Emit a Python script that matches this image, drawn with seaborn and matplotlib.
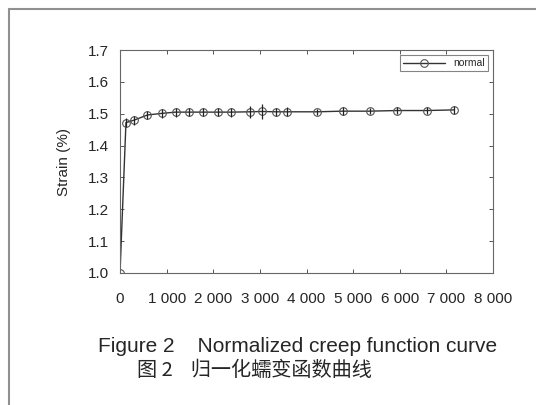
import seaborn as sns
import matplotlib.pyplot as plt
import matplotlib.lines as mlines
import numpy as np
import pandas as pd

# creep data
time_s = [0, 128, 305, 589, 894, 1191, 1489, 1780, 2092, 2383, 2787, 3035,
          3355, 3582, 4220, 4773, 5355, 5950, 6574, 7163]
strain = [1.000, 1.472, 1.480, 1.496, 1.501, 1.505, 1.505, 1.505, 1.505, 1.505,
          1.506, 1.507, 1.506, 1.506, 1.506, 1.508, 1.508, 1.510, 1.510, 1.512]
err = [0.0, 0.014, 0.014, 0.012, 0.014, 0.014, 0.013, 0.013, 0.012, 0.014,
       0.018, 0.025, 0.012, 0.014, 0.010, 0.012, 0.010, 0.012, 0.012, 0.012]

xticks = [0, 1000, 2000, 3000, 4000, 5000, 6000, 7000, 8000]
xticklabels = ['0', '1 000', '2 000', '3 000', '4 000', '5 000', '6 000', '7 000', '8 000']
yticks = [1.0, 1.1, 1.2, 1.3, 1.4, 1.5, 1.6, 1.7]

df = pd.DataFrame({'time': time_s, 'strain': strain, 'err': err})

sns.set_style('ticks')
plt.rcParams['font.family'] = ['Liberation Sans', 'Noto Sans CJK SC', 'DejaVu Sans']

fig = plt.figure(figsize=(5.36, 4.05), dpi=100)
ax = fig.add_axes([120/536, 1-273/405, (493-120)/536, (273-50)/405])

sns.lineplot(data=df, x='time', y='strain', ax=ax, color='#333333', lw=1.0,
             marker='o', markersize=5.5, markerfacecolor='none',
             markeredgecolor='#555555', markeredgewidth=0.8, label='normal')
ax.vlines(df['time'], df['strain'] - df['err'], df['strain'] + df['err'],
          color='#222222', lw=0.9)

ax.set_xlim(0, 8000)
ax.set_ylim(1.0, 1.7)
ax.set_xticks(xticks)
ax.set_xticklabels(xticklabels)
ax.set_yticks(yticks)
ax.set_yticklabels(['%.1f' % v for v in yticks])
ax.tick_params(direction='in', top=True, right=True, length=3, width=0.7,
               color='#555555', labelsize=11, pad=8)
ax.tick_params(axis='x', pad=14)
ax.set_xlabel('')
ax.set_ylabel('Strain (%)', fontsize=11, labelpad=12)
for s in ax.spines.values():
    s.set_color('#666666')
    s.set_linewidth(0.8)

leg = ax.legend(loc='upper right', fontsize=7.5, frameon=True, fancybox=False,
                handlelength=4, borderpad=0.3, borderaxespad=0.5)
leg.get_frame().set_edgecolor('#666666')
leg.get_frame().set_linewidth(0.8)

fig.text(298/536, 1-347/405, 'Figure 2    Normalized creep function curve',
         ha='center', va='center', fontsize=15)
fig.text(254/536, 1-370/405, '图 2    归一化蠕变函数曲线', ha='center', va='center',
         fontsize=14.5, family=['Noto Sans CJK SC', 'DejaVu Sans'])

# page border (only left and top visible in the crop)
fig.add_artist(mlines.Line2D([9/536, 9/536], [0, 1-9/405], color='#909090', lw=1.5))
fig.add_artist(mlines.Line2D([9/536, 1], [1-9/405, 1-9/405], color='#909090', lw=1.5))

fig.savefig('out.png', dpi=100)
